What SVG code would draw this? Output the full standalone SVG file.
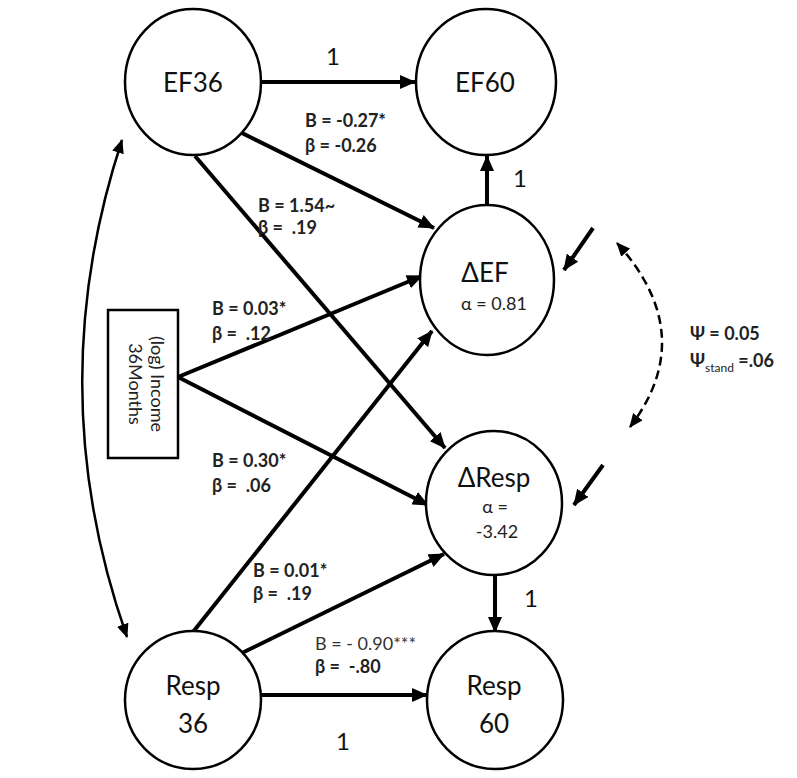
<svg xmlns="http://www.w3.org/2000/svg" width="797" height="778" viewBox="0 0 797 778">
<style>
.node{fill:#fff;stroke:#000;stroke-width:2.5}
.nt{font-family:Lato,"Open Sans",sans-serif;font-size:26px;fill:#111;text-anchor:middle}
.al{font-family:Lato,"Open Sans",sans-serif;font-size:18px;fill:#222;text-anchor:middle}
.lb{font-family:Lato,"Open Sans",sans-serif;font-size:18px;font-weight:bold;fill:#222;white-space:pre}
.lr{font-family:Lato,"Open Sans",sans-serif;font-size:18px;fill:#333;white-space:pre}
.one{font-family:Lato,"Open Sans",sans-serif;font-size:24px;fill:#111;text-anchor:middle}
.thick{stroke:#000;stroke-width:4;fill:none;marker-end:url(#ah)}
.thin{stroke:#000;stroke-width:2.5;fill:none;marker-end:url(#as);marker-start:url(#as)}
</style>
<defs>
<marker id="ah" markerUnits="userSpaceOnUse" markerWidth="16" markerHeight="14" refX="15" refY="7" orient="auto"><path d="M0,0 L16,7 L0,14 z" fill="#000"/></marker>
<marker id="as" markerUnits="userSpaceOnUse" markerWidth="14" markerHeight="12" refX="13" refY="6" orient="auto-start-reverse"><path d="M0,0 L14,6 L0,12 z" fill="#000"/></marker>
</defs>
<rect width="797" height="778" fill="#fff"/>
<g id="connectors">
<line class="thick" x1="262" y1="82" x2="415" y2="82"/>
<line class="thick" x1="487" y1="206" x2="487" y2="156"/>
<line class="thick" x1="242" y1="133" x2="434" y2="228"/>
<line class="thick" x1="195" y1="156" x2="445" y2="448"/>
<line class="thick" x1="178" y1="377" x2="422" y2="276"/>
<line class="thick" x1="178" y1="377" x2="428" y2="505"/>
<line class="thick" x1="193" y1="632" x2="432" y2="331"/>
<line class="thick" x1="242" y1="653" x2="444" y2="554"/>
<line class="thick" x1="495" y1="575" x2="495" y2="632"/>
<line class="thick" x1="262" y1="695" x2="427" y2="695"/>
<line class="thick" x1="593" y1="228" x2="564" y2="270"/>
<line class="thick" x1="603" y1="465" x2="574" y2="505"/>
<path class="thin" d="M122,140 Q40,390 127,637"/>
<path class="thin" d="M617,243 Q700,335 630,427" stroke-width="3" stroke-dasharray="9,5"/>
</g>
<g id="EF36"><ellipse class="node" cx="193" cy="82" rx="68" ry="73"/><text class="nt" x="193" y="92">EF36</text></g>
<g id="EF60"><ellipse class="node" cx="486" cy="82" rx="70" ry="73"/><text class="nt" x="485" y="92">EF60</text></g>
<g id="dEF"><ellipse class="node" cx="487" cy="280" rx="67" ry="75"/><text class="nt" x="485" y="282">ΔEF</text><text class="al" x="494" y="310">α = 0.81</text></g>
<g id="dResp"><ellipse class="node" cx="494" cy="503" rx="68" ry="72"/><text class="nt" x="494" y="487">ΔResp</text><text class="al" x="495" y="513">α =</text><text class="al" x="497" y="538">-3.42</text></g>
<g id="Resp36"><ellipse class="node" cx="193" cy="700" rx="68" ry="69"/><text class="nt" x="193" y="695">Resp</text><text class="nt" x="193" y="733">36</text></g>
<g id="Resp60"><ellipse class="node" cx="495" cy="700" rx="68" ry="69"/><text class="nt" x="494" y="695">Resp</text><text class="nt" x="494" y="733">60</text></g>
<g id="Income"><rect x="108" y="310" width="70" height="148" fill="#fff" stroke="#000" stroke-width="2.5"/>
<g transform="translate(143,384) rotate(90)"><text class="al" x="0" y="-8">(log) Income</text><text class="al" x="0" y="14">36Months</text></g></g>
<g id="labels">
<text class="one" x="333" y="65">1</text>
<text class="one" x="520" y="187">1</text>
<text class="one" x="531" y="607">1</text>
<text class="one" x="343" y="750">1</text>
<text class="lb" x="305" y="127">B = -0.27*</text>
<text class="lb" x="305" y="152">β = -0.26</text>
<text class="lb" x="258" y="212">B = 1.54~</text>
<text class="lb" x="258" y="234">β =  .19</text>
<text class="lb" x="212" y="315">B = 0.03*</text>
<text class="lb" x="212" y="340">β =  .12</text>
<text class="lb" x="212" y="467">B = 0.30*</text>
<text class="lb" x="212" y="492">β =  .06</text>
<text class="lb" x="253" y="577">B = 0.01*</text>
<text class="lb" x="253" y="600">β =  .19</text>
<text class="lr" x="315" y="650">B = - 0.90***</text>
<text class="lb" x="315" y="673">β =  -.80</text>
<text class="lb" x="690" y="340" font-size="20">Ψ = 0.05</text>
<text class="lb" x="690" y="367" font-size="20">Ψ<tspan font-size="12" font-weight="normal" dy="5">stand</tspan><tspan dy="-5"> =.06</tspan></text>
</g>
</svg>
